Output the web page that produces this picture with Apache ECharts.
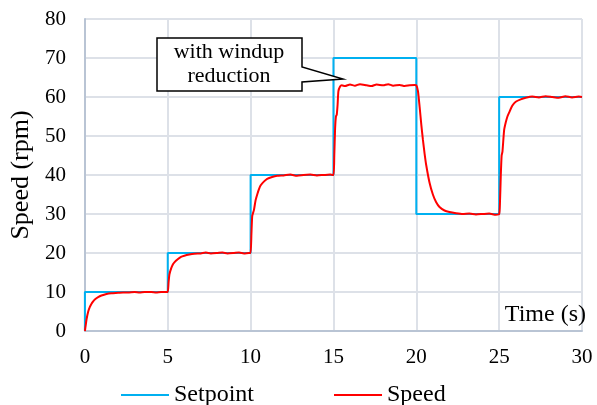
<!DOCTYPE html>
<html>
<head>
<meta charset="utf-8">
<script src="https://cdn.jsdelivr.net/npm/echarts@6/dist/echarts.min.js"></script>
<style>
html,body{margin:0;padding:0;background:#fff;}
#chart{width:597px;height:405px;}
</style>
</head>
<body>
<div id="chart"></div>
<script>
// ---- data ----
var xTicks = [0, 5, 10, 15, 20, 25, 30];
var yTicks = [0, 10, 20, 30, 40, 50, 60, 70, 80];
var seriesNames = ['Setpoint', 'Speed'];

var setpointTime  = [0, 0, 5, 5, 10, 10, 15, 15, 20, 20, 25, 25, 30];
var setpointValue = [0, 10, 10, 20, 20, 40, 40, 70, 70, 30, 30, 60, 60];

var speedTime = [
  0, 0.05, 0.1, 0.2, 0.3, 0.4, 0.5, 0.6, 0.8, 1.0, 1.3, 1.6, 2.0, 2.3, 2.6, 3.0, 3.3, 3.6, 4.0, 4.3, 4.6, 4.9,
  5.0, 5.05, 5.1, 5.2, 5.3, 5.4, 5.6, 5.8, 6.0, 6.3, 6.6, 7.0, 7.3, 7.6, 8.0, 8.3, 8.6, 9.0, 9.3, 9.6, 9.9,
  10.0, 10.05, 10.1, 10.2, 10.3, 10.4, 10.5, 10.6, 10.8, 11.0, 11.3, 11.6, 12.0, 12.4, 12.8, 13.2, 13.6, 14.0, 14.4, 14.8,
  15.0, 15.05, 15.1, 15.15, 15.2, 15.25, 15.3, 15.4, 15.5, 15.7, 16.0, 16.3, 16.6, 17.0, 17.3, 17.6, 18.0, 18.3, 18.6, 19.0, 19.3, 19.6, 19.9,
  20.0, 20.1, 20.2, 20.3, 20.4, 20.5, 20.6, 20.8, 21.0, 21.2, 21.4, 21.7, 22.0, 22.4, 22.8, 23.2, 23.6, 24.0, 24.4, 24.8,
  25.0, 25.05, 25.1, 25.15, 25.2, 25.3, 25.4, 25.5, 25.6, 25.8, 26.0, 26.3, 26.6, 27.0, 27.4, 27.8, 28.2, 28.6, 29.0, 29.4, 29.8, 30.0
];
var speedValue = [
  0, 1.5, 3.0, 5.0, 6.2, 7.0, 7.6, 8.1, 8.7, 9.1, 9.5, 9.7, 9.8, 9.9, 9.9, 10.0, 9.9, 10.0, 10.0, 9.9, 10.0, 10.0,
  10.0, 12.5, 14.5, 16.0, 17.0, 17.6, 18.4, 19.0, 19.3, 19.6, 19.8, 19.9, 20.1, 19.9, 20.0, 20.1, 19.9, 20.0, 20.1, 19.9, 20.0,
  20.0, 25.0, 29.5, 31.0, 33.5, 35.0, 36.3, 37.3, 38.3, 39.0, 39.5, 39.8, 39.9, 40.1, 39.8, 40.0, 40.1, 39.9, 40.0, 40.1,
  40.0, 45.0, 52.0, 55.0, 55.5, 58.0, 61.5, 62.7, 63.0, 62.8, 63.2, 62.9, 63.3, 63.0, 62.8, 63.2, 63.0, 63.3, 62.9, 63.1, 62.8, 63.0, 63.1,
  63.0, 61.5, 57.5, 53.0, 49.0, 45.5, 42.5, 38.0, 35.0, 33.0, 31.8, 30.9, 30.5, 30.2, 30.0, 30.1, 29.9, 30.0, 30.1, 29.8,
  30.0, 33.0, 40.0, 45.0, 46.0, 51.5, 53.5, 55.0, 56.0, 57.8, 58.8, 59.4, 59.8, 60.1, 59.9, 60.2, 60.0, 59.8, 60.2, 59.9, 60.1, 60.0
];

var annotationLines = ['with windup', 'reduction'];
var xAxisTitle = 'Time (s)';
var yAxisTitle = 'Speed (rpm)';

// ---- build ----
function pairs(xs, ys) { return xs.map(function (x, i) { return [x, ys[i]]; }); }

var serif = '"Liberation Serif", "Times New Roman", serif';
var chart = echarts.init(document.getElementById('chart'), null, { renderer: 'canvas' });

var option = {
  animation: false,
  backgroundColor: '#ffffff',
  grid: { left: 84, right: 15, top: 19, bottom: 74, containLabel: false },
  xAxis: {
    type: 'value',
    min: xTicks[0], max: xTicks[xTicks.length - 1], interval: 5,
    axisLine: { show: true, lineStyle: { color: '#b9c4d4', width: 2 } },
    axisTick: { show: false },
    axisLabel: { color: '#000', fontFamily: serif, fontSize: 21, margin: 16 },
    splitLine: { show: true, lineStyle: { color: '#dde1e8', width: 2 } }
  },
  yAxis: {
    type: 'value',
    min: yTicks[0], max: yTicks[yTicks.length - 1], interval: 10,
    name: yAxisTitle,
    nameLocation: 'middle',
    nameGap: 44,
    nameTextStyle: { color: '#000', fontFamily: serif, fontSize: 26 },
    axisLine: { show: true, lineStyle: { color: '#b9c4d4', width: 2 } },
    axisTick: { show: false },
    axisLabel: { color: '#000', fontFamily: serif, fontSize: 21, margin: 19 },
    splitLine: { show: true, lineStyle: { color: '#dde1e8', width: 2 } }
  },
  legend: {
    left: 116, top: 378,
    itemWidth: 48, itemHeight: 14, itemGap: 80,
    icon: 'path://M0,6 L48,6 L48,8 L0,8 Z',
    textStyle: { color: '#000', fontFamily: serif, fontSize: 24 },
    data: seriesNames
  },
  series: [
    {
      name: seriesNames[0], type: 'line', data: pairs(setpointTime, setpointValue),
      showSymbol: false, symbol: 'none',
      lineStyle: { color: '#00b0f0', width: 2 }, itemStyle: { color: '#00b0f0' }, z: 2
    },
    {
      name: seriesNames[1], type: 'line', data: pairs(speedTime, speedValue),
      showSymbol: false, symbol: 'none', smooth: 0.2,
      lineStyle: { color: '#ff0000', width: 2 }, itemStyle: { color: '#ff0000' }, z: 3
    }
  ],
  graphic: [
    {
      type: 'polygon', z: 10,
      shape: { points: [[157, 38], [302, 38], [302, 67], [343, 79], [302, 82], [302, 91], [157, 91]] },
      style: { fill: '#ffffff', stroke: '#000000', lineWidth: 1.5 }
    },
    {
      type: 'text', z: 11, x: 229, y: 52,
      style: { text: annotationLines[0], fill: '#000', font: '22px ' + serif, textAlign: 'center', textVerticalAlign: 'middle' }
    },
    {
      type: 'text', z: 11, x: 229, y: 76,
      style: { text: annotationLines[1], fill: '#000', font: '22px ' + serif, textAlign: 'center', textVerticalAlign: 'middle' }
    },
    {
      type: 'text', z: 11, x: 586, y: 315,
      style: { text: xAxisTitle, fill: '#000', font: '24px ' + serif, textAlign: 'right', textVerticalAlign: 'middle' }
    }
  ]
};
chart.setOption(option);
</script>
</body>
</html>
